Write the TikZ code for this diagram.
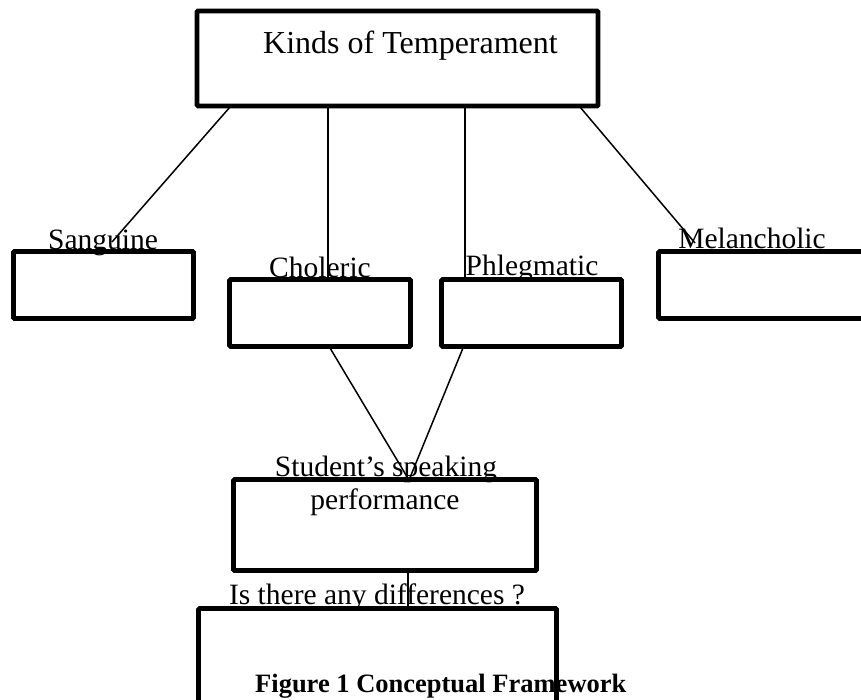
\documentclass[tikz,border=0pt]{standalone}
\usepackage{fontspec}
\setmainfont{Liberation Serif}
\begin{document}
\begin{tikzpicture}[x=1pt,y=-1pt,
  box/.style={draw=black,line width=4.6pt,rounded corners=1pt,rectangle,inner sep=0pt,outer sep=0pt},
  conn/.style={draw=black,line width=1.5pt},
  lbl/.style={anchor=base,inner sep=0pt,font=\fontsize{29.5}{32}\selectfont},
  ttl/.style={anchor=base,inner sep=0pt,font=\fontsize{32}{34}\selectfont},
  captext/.style={anchor=base west,inner sep=0pt,font=\fontsize{26.5}{28}\selectfont\bfseries}]
\useasboundingbox (0,0) rectangle (861,700);
% boxes
\node[box,minimum width=401pt,minimum height=95pt] (top) at (397.5,58.5) {};
\node[box,minimum width=180pt,minimum height=67pt] (sang) at (103.5,285) {};
\node[box,minimum width=181pt,minimum height=67pt] (chol) at (320,313) {};
\node[box,minimum width=180pt,minimum height=67pt] (phleg) at (531.5,313) {};
\node[box,minimum width=240pt,minimum height=67pt] (mel) at (778.5,285) {};
\node[box,minimum width=303pt,minimum height=91pt] (stud) at (385,525) {};
\node[box,minimum width=358pt,minimum height=131pt] (diff) at (377.5,674) {};
% texts
\node[ttl] (ttext) at (410.5,54) {Kinds of Temperament};
\node[lbl] (tsang) at (103,250) {Sanguine};
\node[lbl] (tchol) at (320,278) {Choleric};
\node[lbl] (tphleg) at (532,276) {Phlegmatic};
\node[lbl] (tmel) at (752,249) {Melancholic};
\node[lbl] (tstud1) at (386,476) {Student’s speaking};
\node[lbl] (tstud2) at (385,509) {performance};
\node[lbl] (tdiff) at (377,604) {Is there any differences ?};
\node[captext] (tcap) at (255,692) {Figure 1 Conceptual Framework};
% connector end points
\coordinate (a1) at (230,107);
\coordinate (a2) at (112,242);
\coordinate (b1) at (328,107);
\coordinate (b2) at (328,280);
\coordinate (c1) at (465,107);
\coordinate (c2) at (465,278);
\coordinate (d1) at (580,107);
\coordinate (d2) at (695,243);
\coordinate (e1) at (330,348);
\coordinate (f1) at (463,348);
\coordinate (m) at (409,480);
\coordinate (g1) at (408,572);
\coordinate (g2) at (408,606);
\draw[conn] (a1) -- (a2);
\draw[conn] (b1) -- (b2);
\draw[conn] (c1) -- (c2);
\draw[conn] (d1) -- (d2);
\draw[conn] (e1) -- (m);
\draw[conn] (f1) -- (m);
\draw[conn] (g1) -- (g2);
\end{tikzpicture}
\end{document}
